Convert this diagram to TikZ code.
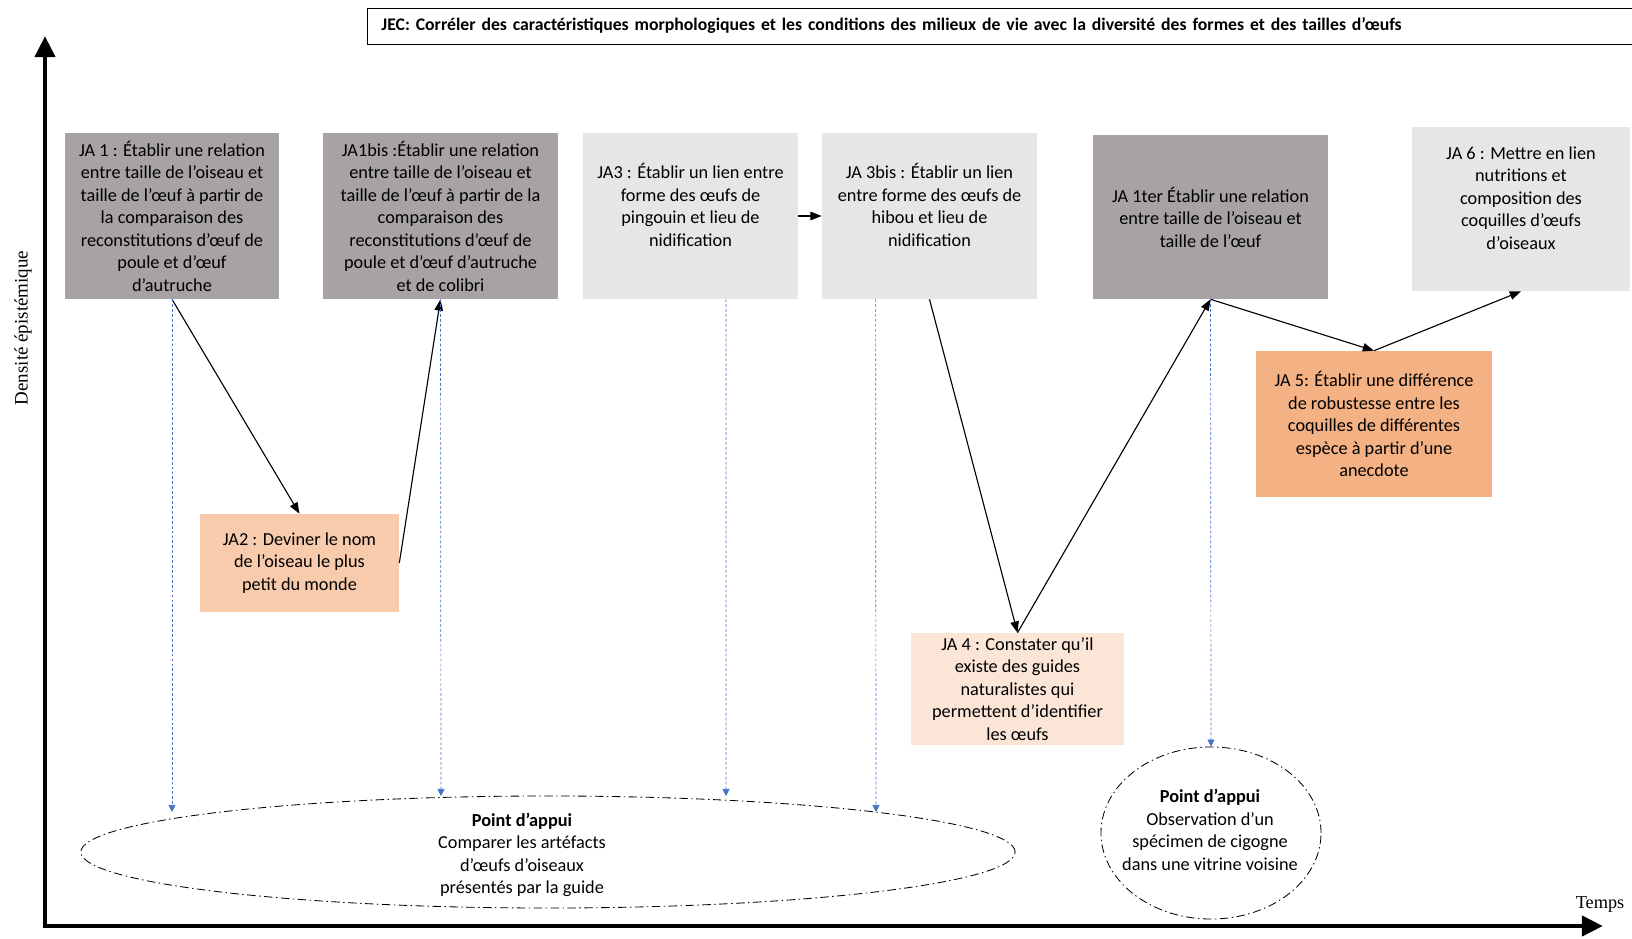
\documentclass[tikz,border=0pt]{standalone}
\usepackage{fontspec}
\setmainfont{Carlito}
\newfontfamily\timesfont{Liberation Serif}
\usetikzlibrary{arrows.meta,shapes.geometric,calc}
\definecolor{jadark}{RGB}{166,163,162}
\definecolor{jalight}{RGB}{230,230,230}
\definecolor{japeach}{RGB}{248,203,173}
\definecolor{japale}{RGB}{251,229,214}
\definecolor{jaorange}{RGB}{244,177,131}
\definecolor{guideblue}{RGB}{68,114,196}
\tikzset{
  ja/box/.style={align=center, inner sep=2pt, font=\fontsize{13}{16}\selectfont},
  ja/dark/.style={ja/box, fill=jadark},
  ja/light/.style={ja/box, fill=jalight},
  ja/peach/.style={ja/box, fill=japeach},
  ja/pale/.style={ja/box, fill=japale},
  ja/orange/.style={ja/box, fill=jaorange},
  ja/link/.style={-{Triangle[length=8pt,width=6pt]}, line width=0.8pt},
  ja/guide/.style={guideblue, dash pattern=on 2pt off 1.5pt, line width=0.5pt, -{Triangle[length=5pt,width=5pt]}},
  ja/appui/.style={draw, ellipse, inner sep=0pt, dash pattern=on 6pt off 2.5pt on 1pt off 2.5pt, line width=0.6pt},
  ja/axis/.style={line width=3.5pt, -{Triangle[length=15pt,width=14pt]}}
}

\begin{document}
\begin{tikzpicture}[x=0.025cm, y=-0.025cm]
\useasboundingbox (0,0) rectangle (1632,939);
% axes
\coordinate (origin) at (45,926);
\coordinate (ytop) at (45,36);
\coordinate (xend) at (1603,926);
\draw[ja/axis] (origin) -- (ytop);
\draw[ja/axis] (43,926) -- (xend);
\node[rotate=90, font=\timesfont\fontsize{13.5}{16}\selectfont] (ylab) at (23,328) {Densité épistémique};
\node[font=\timesfont\fontsize{13}{16}\selectfont] (xlab) at (1600,904) {Temps};
% title
\node[draw, line width=0.6pt, anchor=west, minimum width=31.8cm, minimum height=0.9cm,
  text width=31.1cm, align=left, font=\fontsize{12.6}{16}\selectfont\bfseries] (jec) at (367,26)
  {JEC: Corréler des caractéristiques morphologiques et les conditions des milieux de vie avec la diversité des formes et des tailles d’œufs};

% jalons
\node[ja/dark, minimum width=5.36cm, minimum height=4.15cm] (JA1) at (172,216)
  {JA 1 : Établir une relation\\entre taille de l’oiseau et\\taille de l’œuf à partir de\\la comparaison des\\reconstitutions d’œuf de\\poule et d’œuf\\d’autruche};
\node[ja/dark, minimum width=5.875cm, minimum height=4.15cm] (JA1bis) at (440.5,216)
  {JA1bis :Établir une relation\\entre taille de l’oiseau et\\taille de l’œuf à partir de la\\comparaison des\\reconstitutions d’œuf de\\poule et d’œuf d’autruche\\et de colibri};
\node[ja/light, minimum width=5.375cm, minimum height=4.15cm] (JA3) at (690.5,216)
  {JA3 : Établir un lien entre\\forme des œufs de\\pingouin et lieu de\\nidification\\ \mbox{}};
\node[ja/light, minimum width=5.375cm, minimum height=4.15cm] (JA3bis) at (929.5,216)
  {JA 3bis : Établir un lien\\entre forme des œufs de\\hibou et lieu de\\nidification\\ \mbox{}};
\node[ja/dark, minimum width=5.875cm, minimum height=4.1cm] (JA1ter) at (1210.5,217)
  {JA 1ter Établir une relation\\entre taille de l’oiseau et\\taille de l’œuf};
\node[ja/light, minimum width=5.45cm, minimum height=4.1cm] (JA6) at (1521,209)
  {JA 6 : Mettre en lien\\nutritions et\\composition des\\coquilles d’œufs\\d’oiseaux\\ \mbox{}};
\node[ja/peach, minimum width=4.975cm, minimum height=2.45cm] (JA2) at (299.5,563)
  {JA2 : Deviner le nom\\de l’oiseau le plus\\petit du monde};
\node[ja/pale, minimum width=5.325cm, minimum height=2.8cm] (JA4) at (1017.5,689)
  {JA 4 : Constater qu’il\\existe des guides\\naturalistes qui\\permettent d’identifier\\les œufs};
\node[ja/orange, minimum width=5.9cm, minimum height=3.65cm] (JA5) at (1374,424)
  {JA 5:  Établir une différence\\de robustesse entre les\\coquilles de différentes\\espèce à partir d’une\\anecdote};

% points d'appui
\node[ja/appui, minimum width=23.35cm, minimum height=2.8cm] (appui) at (548,852) {};
\node[ja/box] (appuitxt) at (522,855)
  {\textbf{Point d’appui}\\Comparer les artéfacts\\d’œufs d’oiseaux\\présentés par la guide};
\node[ja/appui, minimum width=5.5cm, minimum height=4.3cm] (cigogne) at (1211,833) {};
\node[ja/box] (cigognetxt) at (1210,830)
  {\textbf{Point d’appui}\\Observation d’un\\spécimen de cigogne\\dans une vitrine voisine};

% parcours
\draw[ja/link] (JA1.south) -- (JA2.north);
\draw[ja/link] (JA2.east) -- (JA1bis.south);
\draw[ja/link] (JA3.east) -- (JA3bis.west);
\draw[ja/link] (JA3bis.south) -- (JA4.north);
\draw[ja/link] (JA4.north) -- (JA1ter.south);
\draw[ja/link] (JA1ter.south) -- (JA5.north);
\draw[ja/link] (JA5.north) -- (JA6.south);

% renvois
\coordinate (g1) at (172,812);
\coordinate (g2) at (441,796);
\coordinate (g3) at (726,796);
\coordinate (g4) at (876,812);
\draw[ja/guide] (JA1.south) -- (g1);
\draw[ja/guide] (JA1bis.south) -- (g2);
\draw[ja/guide] ($(JA3.south west)!0.665!(JA3.south east)$) -- (g3);
\draw[ja/guide] ($(JA3bis.south west)!0.25!(JA3bis.south east)$) -- (g4);
\draw[ja/guide] (JA1ter.south) -- (cigogne.north);
\end{tikzpicture}
\end{document}
